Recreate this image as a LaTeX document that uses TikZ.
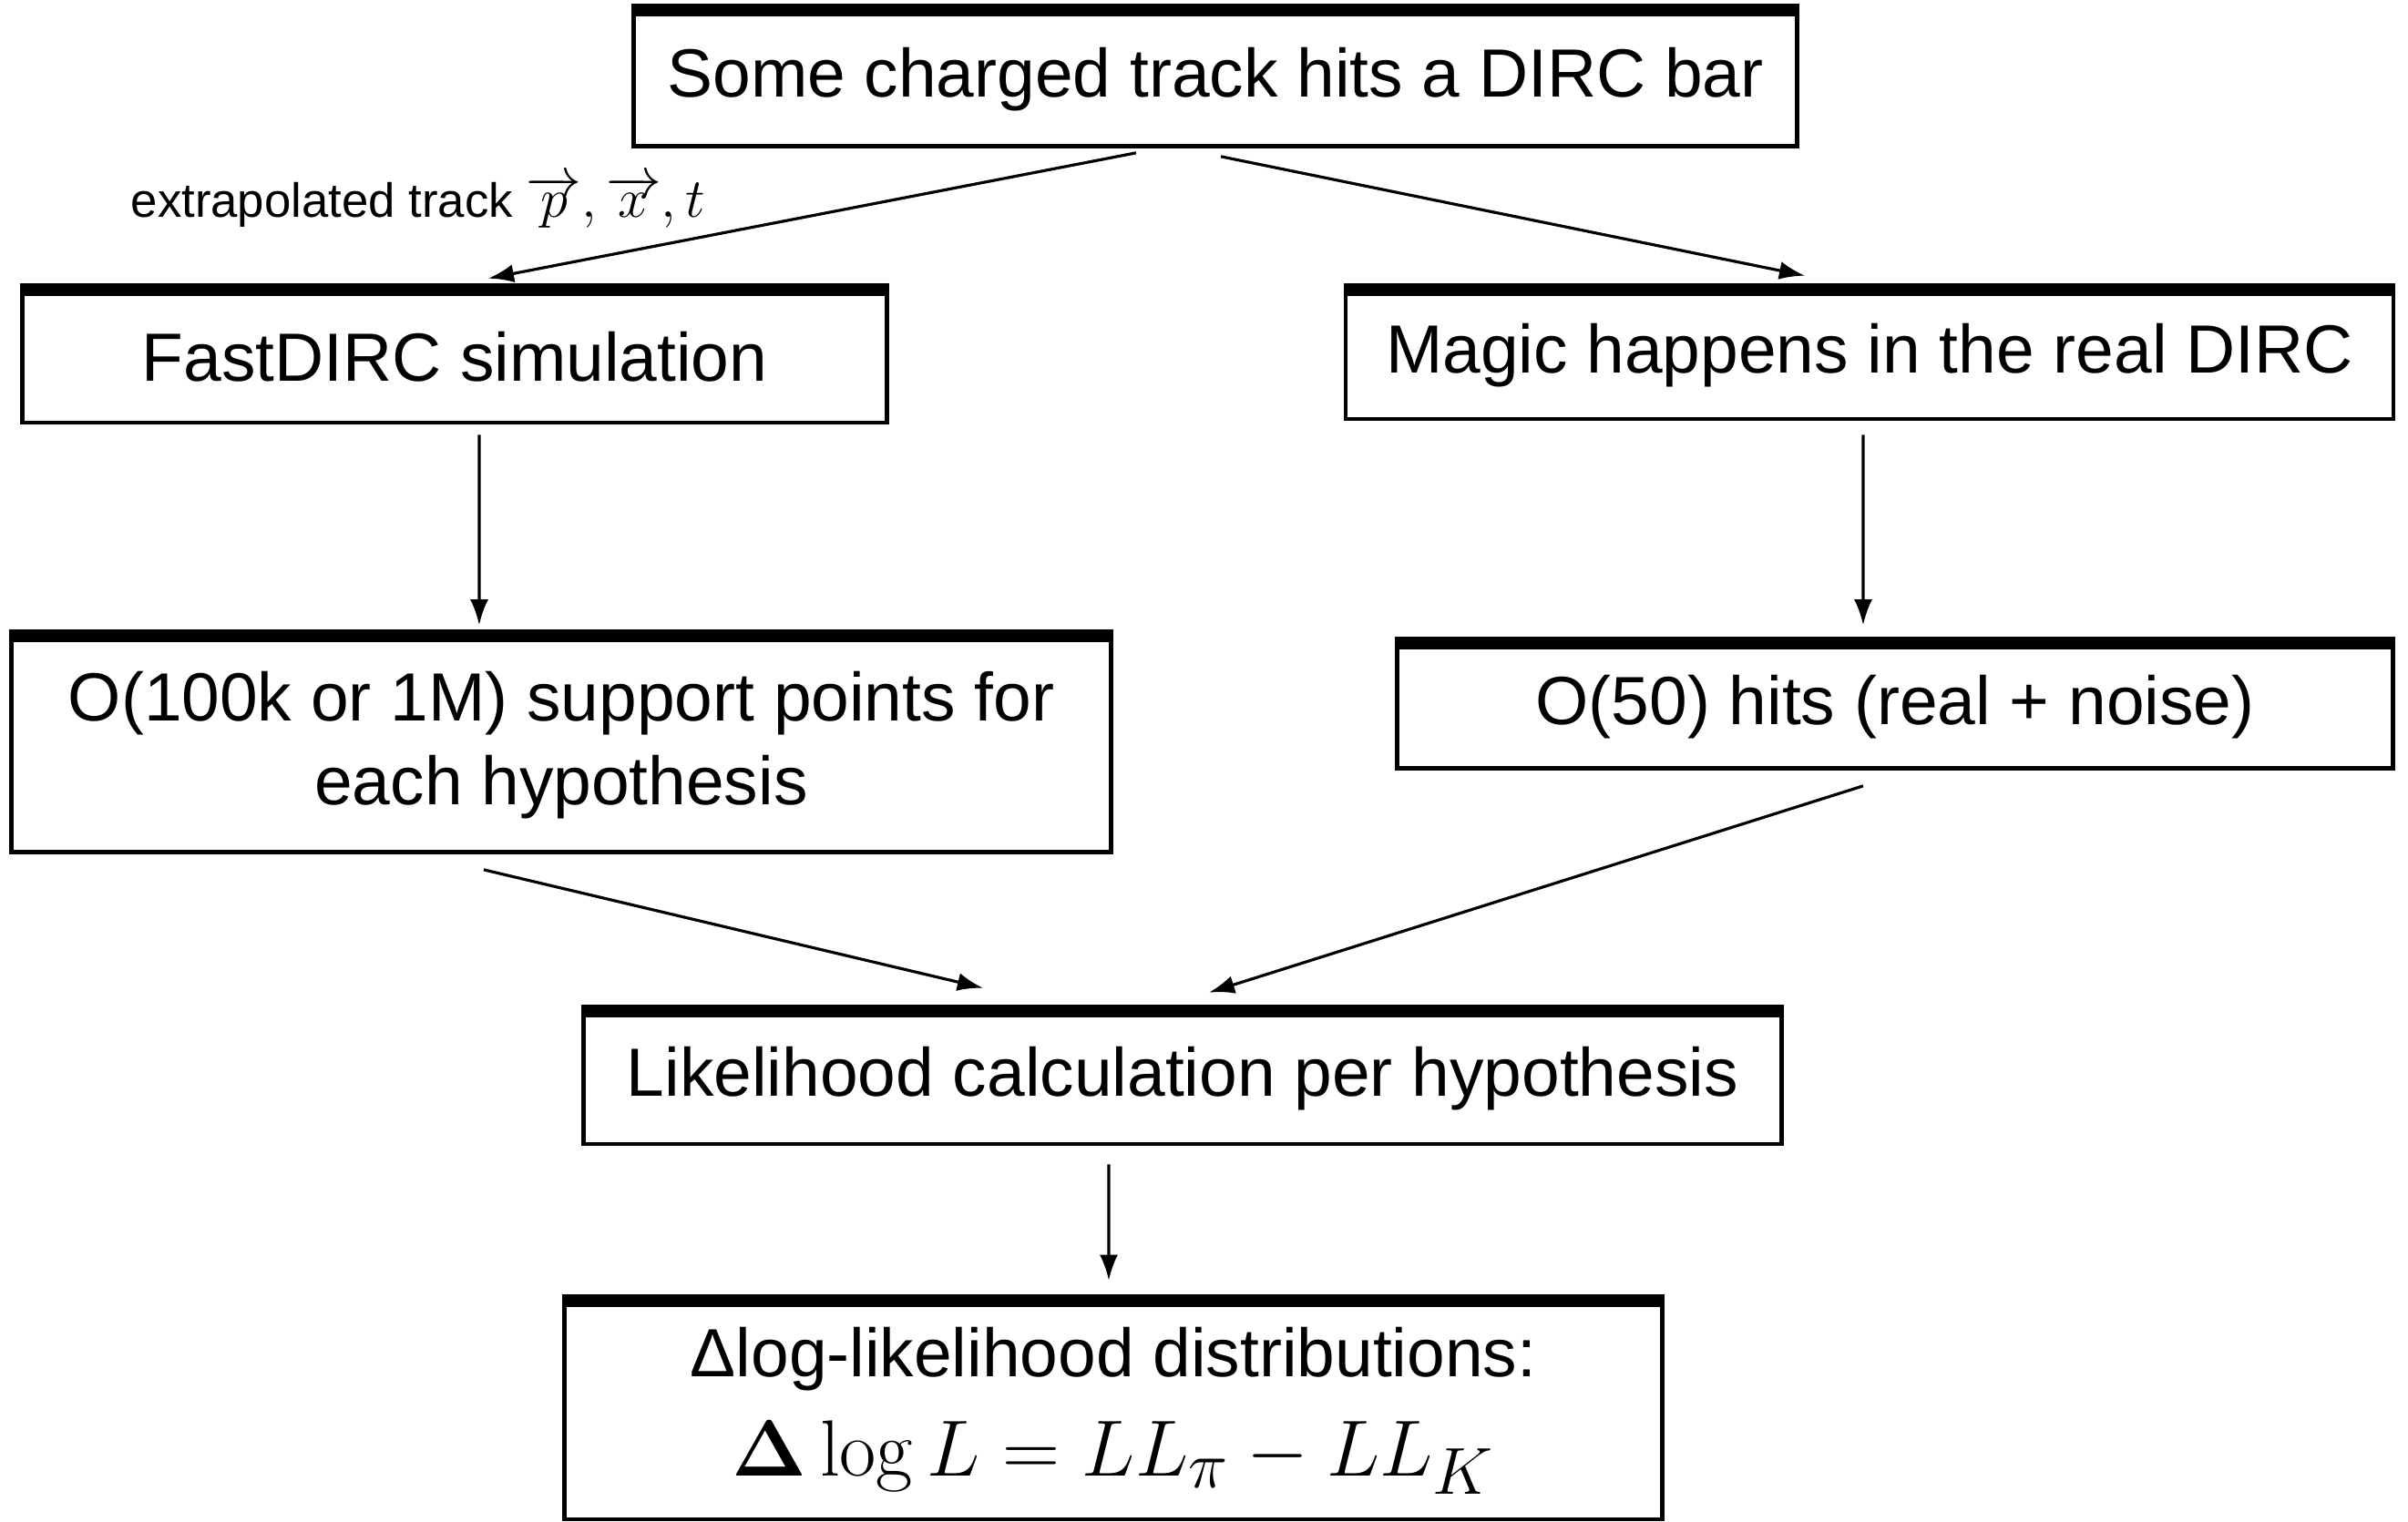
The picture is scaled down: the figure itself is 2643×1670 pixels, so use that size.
\documentclass[tikz,border=0pt]{standalone}
\usepackage[no-math]{fontspec}
\setmainfont{Liberation Sans}
\usetikzlibrary{arrows.meta}

\begin{document}
\begin{tikzpicture}[x=0.01cm,y=-0.01cm,
  box/.style={draw,line width=1.3pt,inner sep=0pt,align=center,font=\fontsize{21.3}{26}\selectfont,
    append after command={(\tikzlastnode.north west) edge[line width=4pt] (\tikzlastnode.north east)}},
  arr/.style={-{Latex[length=0.28cm,width=0.2cm]},line width=0.9pt}]
\useasboundingbox (0,0) rectangle (2643,1670);
\node[box,minimum width=12.76cm,minimum height=1.47cm] (hit) at (1334,87) {Some charged track hits a DIRC bar};
\node[box,minimum width=9.48cm,minimum height=1.44cm] (fast) at (499,392) {FastDIRC simulation};
\node[box,minimum width=11.49cm,minimum height=1.40cm] (magic) at (2052,390) {Magic happens in the real DIRC};
\node[box,minimum width=12.06cm,minimum height=2.35cm] (support) at (616,818) {O(100k or 1M) support points for\\each hypothesis};
\node[box,minimum width=10.92cm,minimum height=1.35cm] (hits) at (2080,776) {O(50) hits (real + noise)};
\node[box,minimum width=13.14cm,minimum height=1.44cm] (like) at (1298,1184) {Likelihood calculation per hypothesis};
\node[box,minimum width=12.04cm,minimum height=2.38cm] (delta) at (1222,1549) {Δlog-likelihood distributions:\\[5pt]
  {\fontsize{28}{30}\selectfont$\mathbf{\Delta}\log L = LL_\pi - LL_K$}};
\node[anchor=west,inner sep=0pt,font=\fontsize{15}{18}\selectfont] (trk) at (143,222) {extrapolated track {\fontsize{19}{22}\selectfont$\overrightarrow{p}, \overrightarrow{x}, t$}};

\draw[arr] ([xshift=-0.87cm,yshift=-0.05cm]hit.south) -- ([xshift=0.37cm,yshift=0.12cm]fast.north);
\draw[arr] ([xshift=0.06cm,yshift=-0.09cm]hit.south) -- ([xshift=-0.71cm,yshift=0.15cm]magic.north);
\draw[arr] ([xshift=0.27cm,yshift=-0.11cm]fast.south) -- ([xshift=-0.9cm,yshift=0.12cm]support.north);
\draw[arr] ([xshift=-0.07cm,yshift=-0.15cm]magic.south) -- ([xshift=-0.35cm,yshift=0.2cm]hits.north);
\draw[arr] ([xshift=-0.85cm,yshift=-0.17cm]support.south) -- ([xshift=-2.19cm,yshift=0.25cm]like.north);
\draw[arr] ([xshift=-0.35cm,yshift=-0.17cm]hits.south) -- ([xshift=0.29cm,yshift=0.2cm]like.north);
\draw[arr] ([xshift=-0.81cm,yshift=-0.2cm]like.south) -- ([xshift=-0.05cm,yshift=0.22cm]delta.north);
\end{tikzpicture}
\end{document}
